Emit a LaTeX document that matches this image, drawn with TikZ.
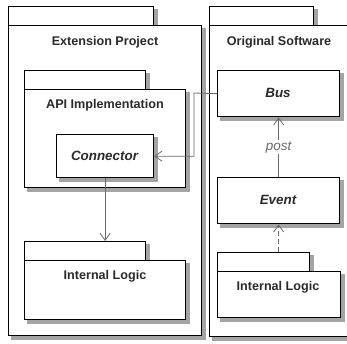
\documentclass[tikz,border=0pt]{standalone}
\usepackage{fontspec}
\setmainfont{Liberation Sans}
\usetikzlibrary{arrows.meta}
\definecolor{txt}{HTML}{2A2A2A}
\definecolor{conn}{HTML}{6A6A6A}
\definecolor{shd}{HTML}{A4A4A4}
\tikzset{
  box/.style={draw=black, fill=white, line width=1.3pt, inner sep=0pt, anchor=north west},
  lab/.style={text=txt, font=\bfseries\fontsize{12.6}{15}\selectfont, inner sep=0pt},
  ilab/.style={text=txt, font=\bfseries\itshape\fontsize{13.4}{15}\selectfont, inner sep=0pt},
  link/.style={draw=conn, line width=0.8pt, -{Straight Barb[length=7pt,width=10pt,line width=0.8pt]}},
}
\begin{document}
\begin{tikzpicture}[x=1pt,y=-1pt]
\clip (0,0) rectangle (347,343);
\fill[white] (0,0) rectangle (347,343);
% Extension Project package
\fill[shd] (11,9) rectangle (157.5,29);
\node[box, minimum width=145pt, minimum height=19pt] (exttab) at (8,6) {};
\fill[shd] (11,28) rectangle (205.5,339.5);
\node[box, minimum width=193pt, minimum height=310pt] (extbody) at (8,25) {};
% Original Software package
\fill[shd] (212,9) rectangle (317.5,29);
\node[box, minimum width=104pt, minimum height=19pt] (origtab) at (209,6) {};
\fill[shd] (212,28) rectangle (358,340.5);
\node[box, minimum width=145pt, minimum height=311pt] (origbody) at (209,25) {};
\node[lab] (extlabel) at (105,42) {Extension Project};
\node[lab] (origlabel) at (279,42) {Original Software};
% API Implementation package
\fill[shd] (27,73) rectangle (149.5,93);
\node[box, minimum width=121pt, minimum height=19pt] (apitab) at (24,70) {};
\fill[shd] (27,92) rectangle (189.5,191.5);
\node[box, minimum width=161pt, minimum height=98pt] (apibody) at (24,89) {};
\node[lab] (apilabel) at (105,105) {API Implementation};
% Connector class
\fill[shd] (59,137) rectangle (157.5,181.5);
\node[box, minimum width=97pt, minimum height=43pt] (conn) at (56,134) {};
\node[ilab] (connlabel) at (104.5,155.5) {Connector};
% Internal Logic (left)
\fill[shd] (27,244) rectangle (149.5,264);
\node[box, minimum width=121pt, minimum height=19pt] (iltab) at (24,241) {};
\fill[shd] (27,263) rectangle (189.5,323.5);
\node[box, minimum width=161pt, minimum height=59pt] (ilbody) at (24,260) {};
\node[lab] (illabel) at (105,276) {Internal Logic};
% Bus
\fill[shd] (220,73) rectangle (343.5,120.5);
\node[box, minimum width=122pt, minimum height=46pt] (bus) at (217,70) {};
\node[ilab] (buslabel) at (278,93) {Bus};
% Event
\fill[shd] (220,180) rectangle (343.5,227.5);
\node[box, minimum width=122pt, minimum height=46pt] (event) at (217,177) {};
\node[ilab] (eventlabel) at (278,200) {Event};
% Internal Logic (right)
\fill[shd] (220,255) rectangle (313.5,275);
\node[box, minimum width=92pt, minimum height=19pt] (irtab) at (217,252) {};
\fill[shd] (220,274) rectangle (344.5,321.5);
\node[box, minimum width=123pt, minimum height=46pt] (irbody) at (217,271) {};
\node[lab] (irlabel) at (278,287) {Internal Logic};
% connectors
\coordinate (bend) at (194,93);
\draw[link] (bus.west) -- (bend) |- (conn.east);
\draw[link] (conn.south) -- (conn.south |- iltab.north);
\draw[link] (event.north) -- node[fill=white, inner sep=1.5pt, text=conn, font=\fontsize{13.5}{15}\selectfont\itshape] (postlabel) {post} (bus.south);
\draw[link, dash pattern=on 5pt off 3pt] (event.south |- irtab.north) -- (event.south);
\end{tikzpicture}
\end{document}
